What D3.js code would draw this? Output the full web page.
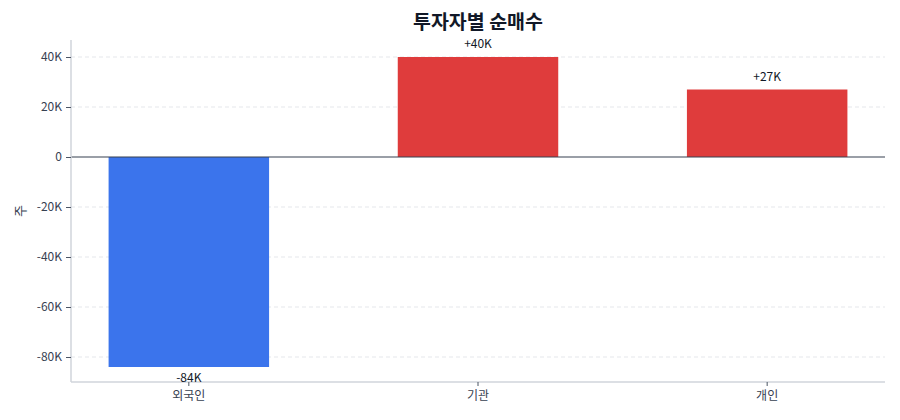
<!DOCTYPE html>
<html><head><meta charset="utf-8">
<script src="https://cdn.jsdelivr.net/npm/d3@7"></script>
<style>
body{margin:0;background:#fff;}
svg{display:block;font-family:"Noto Sans CJK KR","Noto Sans",sans-serif;}
</style></head>
<body><svg id="c" width="900" height="420"></svg>
<script>
const categories = ["외국인", "기관", "개인"];
const values = [-84000, 40000, 27000];
const yTicks = [-80000, -60000, -40000, -20000, 0, 20000, 40000];
const yDomain = [-90000, 46800];
const title = "투자자별 순매수";
const yLabel = "주";

const svg = d3.select("#c");
const m = {l:71, r:15, t:40, b:38};
const W = 900, H = 420;
const x = d3.scaleBand().domain(categories).range([m.l, W - m.r]).paddingInner(0.445).paddingOuter(0.13);
const y = d3.scaleLinear().domain(yDomain).range([H - m.b, m.t]);
const fmt = v => v === 0 ? "0" : (v/1000) + "K";

// grid
svg.append("g").selectAll("line").data(yTicks.filter(d => d !== 0)).join("line")
  .attr("x1", m.l).attr("x2", W - m.r)
  .attr("y1", d => y(d)).attr("y2", d => y(d))
  .attr("stroke", "#e5e7eb").attr("stroke-dasharray", "4,3").attr("stroke-width", 1);

// bars
svg.append("g").selectAll("rect").data(categories).join("rect")
  .attr("x", d => x(d)).attr("width", x.bandwidth())
  .attr("y", (d,i) => y(Math.max(0, values[i])))
  .attr("height", (d,i) => Math.abs(y(values[i]) - y(0)))
  .attr("fill", (d,i) => values[i] < 0 ? "#3b74ec" : "#df3c3c");

// zero line
svg.append("line").attr("x1", m.l).attr("x2", W - m.r)
  .attr("y1", y(0)).attr("y2", y(0)).attr("stroke", "#374151").attr("stroke-width", 1.2);

// y axis
const ya = svg.append("g").attr("transform", `translate(${m.l},0)`)
  .call(d3.axisLeft(y).tickValues(yTicks).tickFormat(fmt).tickSize(5).tickPadding(4));
ya.select(".domain").attr("stroke", "#d1d5db").attr("stroke-width", 1.5).attr("d", `M0,${m.t}V${H-m.b}`);
ya.selectAll(".tick line").attr("stroke", "#4b5563");
ya.selectAll(".tick text").attr("fill", "#374151").style("font-size", "12px").style("font-family", '"Noto Sans CJK KR",sans-serif');

// x axis
const xa = svg.append("g").attr("transform", `translate(0,${H - m.b})`)
  .call(d3.axisBottom(x).tickSize(4).tickPadding(5));
xa.select(".domain").attr("stroke", "#d1d5db").attr("stroke-width", 1.5).attr("d", `M${m.l},0H${W-m.r}`);
xa.selectAll(".tick line").attr("stroke", "#4b5563");
xa.selectAll(".tick text").attr("fill", "#374151").style("font-size", "12px").style("font-family", '"Noto Sans CJK KR",sans-serif');

// value labels
svg.append("g").selectAll("text").data(categories).join("text")
  .attr("x", d => x(d) + x.bandwidth()/2)
  .attr("y", (d,i) => values[i] >= 0 ? y(values[i]) - 9 : y(values[i]) + 15)
  .attr("text-anchor", "middle").attr("fill", "#111827").style("font-size", "12px")
  .text((d,i) => (values[i] > 0 ? "+" : "-") + Math.round(Math.abs(values[i])/1000) + "K");

// title
svg.append("text").attr("x", (m.l + W - m.r)/2).attr("y", 29)
  .attr("text-anchor", "middle").attr("fill", "#111827")
  .style("font-size", "19.5px").style("font-weight", "bold").text(title);

// y label
svg.append("text").attr("transform", `translate(25,${(m.t + H - m.b)/2}) rotate(-90)`)
  .attr("text-anchor", "middle").attr("fill", "#374151").style("font-size", "13px").text(yLabel);
</script></body></html>
